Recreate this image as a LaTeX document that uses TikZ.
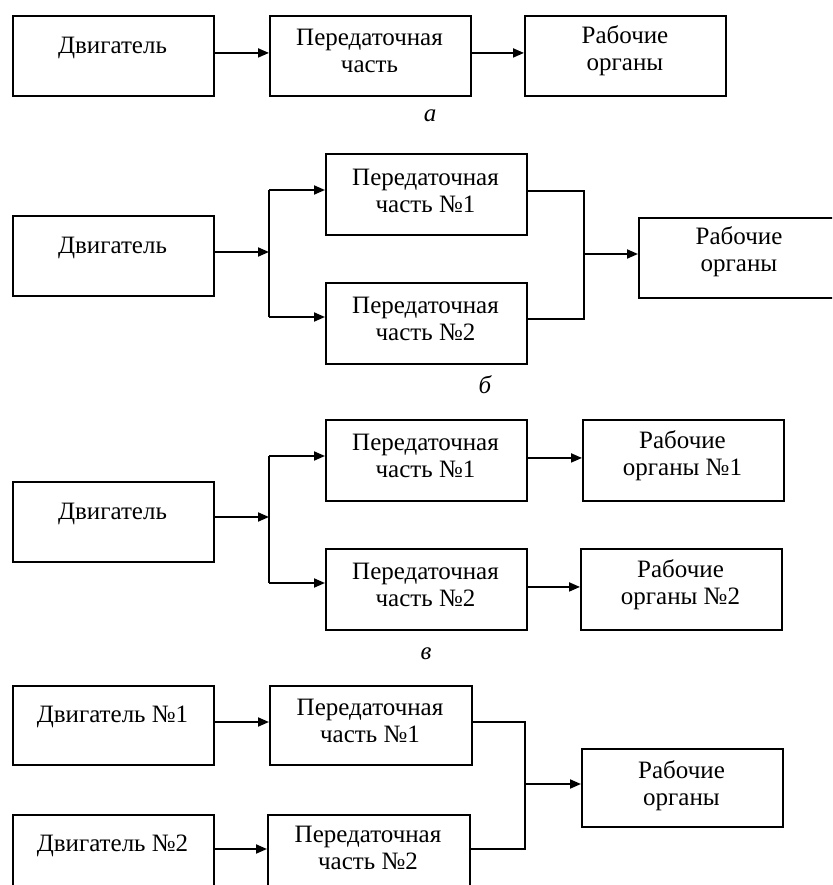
\documentclass[tikz,border=0pt]{standalone}
\usepackage{fontspec}
\setmainfont{Liberation Serif}
\usetikzlibrary{arrows.meta,calc}
\tikzset{
  box/.style={draw, line width=1.9pt, minimum width=201pt, minimum height=80pt, inner sep=0pt, anchor=north west},
  txt/.style={font=\fontsize{25}{27}\selectfont, align=center, inner sep=0pt},
  subcap/.style={font=\fontsize{25}{27}\selectfont\itshape, inner sep=0pt},
  ln/.style={line width=1.9pt},
  arr/.style={line width=1.9pt, -{Triangle[length=11pt,width=9pt]}}
}
\begin{document}
\begin{tikzpicture}[x=1pt,y=-1pt]
\useasboundingbox (0,0) rectangle (832,885);
\clip (0,0) rectangle (832,885);
\fill[white] (0,0) rectangle (832,885);

% ---------- a ----------
\node[box] (A1) at (12,15) {};
\node[box] (A2) at (269,15) {};
\node[box] (A3) at (524,15) {};
\node[txt] (A1t) at (112.5,48) {Двигатель};
\node[txt] (A2t) at (369.5,51) {Передаточная\\часть};
\node[txt] (A3t) at (625,50.5) {Рабочие\\органы};
\draw[arr] ([yshift=3pt]A1.east) -- ([yshift=3pt]A2.west);
\draw[arr] ([yshift=3pt]A2.east) -- ([yshift=3pt]A3.west);
\node[subcap] (La) at (430,116) {а};

% ---------- б ----------
\node[box] (B1) at (12,215) {};
\node[box, minimum height=81pt] (B2) at (325,153) {};
\node[box, minimum height=81pt] (B3) at (325,282) {};
\node[box] (B4) at (638,217) {};
\node[txt] (B1t) at (112.5,248) {Двигатель};
\node[txt] (B2t) at (425.5,190.5) {Передаточная\\часть №1};
\node[txt] (B3t) at (425.5,319) {Передаточная\\часть №2};
\node[txt] (B4t) at (739,252) {Рабочие\\органы};
\coordinate (jB) at (269,252);
\coordinate (jB1) at (269,190);
\coordinate (jB2) at (269,317);
\coordinate (kB) at (584,254);
\coordinate (kB1) at (584,191);
\coordinate (kB2) at (584,319);
\draw[arr] (B1.east |- jB) -- (jB);
\draw[ln] (jB1) -- (jB2);
\draw[arr] (jB1) -- (jB1 -| B2.west);
\draw[arr] (jB2) -- (jB2 -| B3.west);
\draw[ln] (B2.east |- kB1) -- (kB1) -- (kB2) -- (B3.east |- kB2);
\draw[arr] (kB) -- (kB -| B4.west);
\node[subcap] (Lb) at (485,385) {б};

% ---------- в ----------
\node[box] (C1) at (12,481) {};
\node[box, minimum height=81pt] (C2) at (325,419) {};
\node[box, minimum height=81pt] (C3) at (325,548) {};
\node[box, minimum height=81pt] (C4) at (582,419) {};
\node[box, minimum height=81pt] (C5) at (580,548) {};
\node[txt] (C1t) at (112.5,514) {Двигатель};
\node[txt] (C2t) at (425.5,455.5) {Передаточная\\часть №1};
\node[txt] (C3t) at (425.5,584.5) {Передаточная\\часть №2};
\node[txt] (C4t) at (682.5,455.5) {Рабочие\\органы №1};
\node[txt] (C5t) at (680.5,584.5) {Рабочие\\органы №2};
\coordinate (jC) at (269,517);
\coordinate (jC1) at (269,456);
\coordinate (jC2) at (269,583);
\draw[arr] (C1.east |- jC) -- (jC);
\draw[ln] (jC1) -- (jC2);
\draw[arr] (jC1) -- (jC1 -| C2.west);
\draw[arr] (jC2) -- (jC2 -| C3.west);
\draw[arr] ([yshift=2.5pt]C2.east) -- ([yshift=2.5pt]C2.east -| C4.west);
\draw[arr] ([yshift=2.5pt]C3.east) -- ([yshift=2.5pt]C3.east -| C5.west);
\node[subcap] (Lc) at (426,654) {в};

% ---------- г ----------
\node[box, minimum height=79pt] (D1) at (12,685) {};
\node[box, minimum height=79pt, minimum width=202pt] (D2) at (269,685) {};
\node[box] (D3) at (12,814) {};
\node[box, minimum width=202pt] (D4) at (267,814) {};
\node[box, minimum height=78pt] (D5) at (581,748) {};
\node[txt] (D1t) at (112.5,717) {Двигатель №1};
\node[txt] (D2t) at (370,720.5) {Передаточная\\часть №1};
\node[txt] (D3t) at (112.5,846) {Двигатель №2};
\node[txt] (D4t) at (368,847.5) {Передаточная\\часть №2};
\node[txt] (D5t) at (681.5,785.5) {Рабочие\\органы};
\coordinate (kD) at (525,784);
\coordinate (kD1) at (525,722);
\coordinate (kD2) at (525,849);
\draw[arr] (D1.east |- kD1) -- (D2.west |- kD1);
\draw[arr] (D3.east |- kD2) -- (D4.west |- kD2);
\draw[ln] (D2.east |- kD1) -- (kD1) -- (kD2) -- (D4.east |- kD2);
\draw[arr] (kD) -- (kD -| D5.west);
\end{tikzpicture}
\end{document}
